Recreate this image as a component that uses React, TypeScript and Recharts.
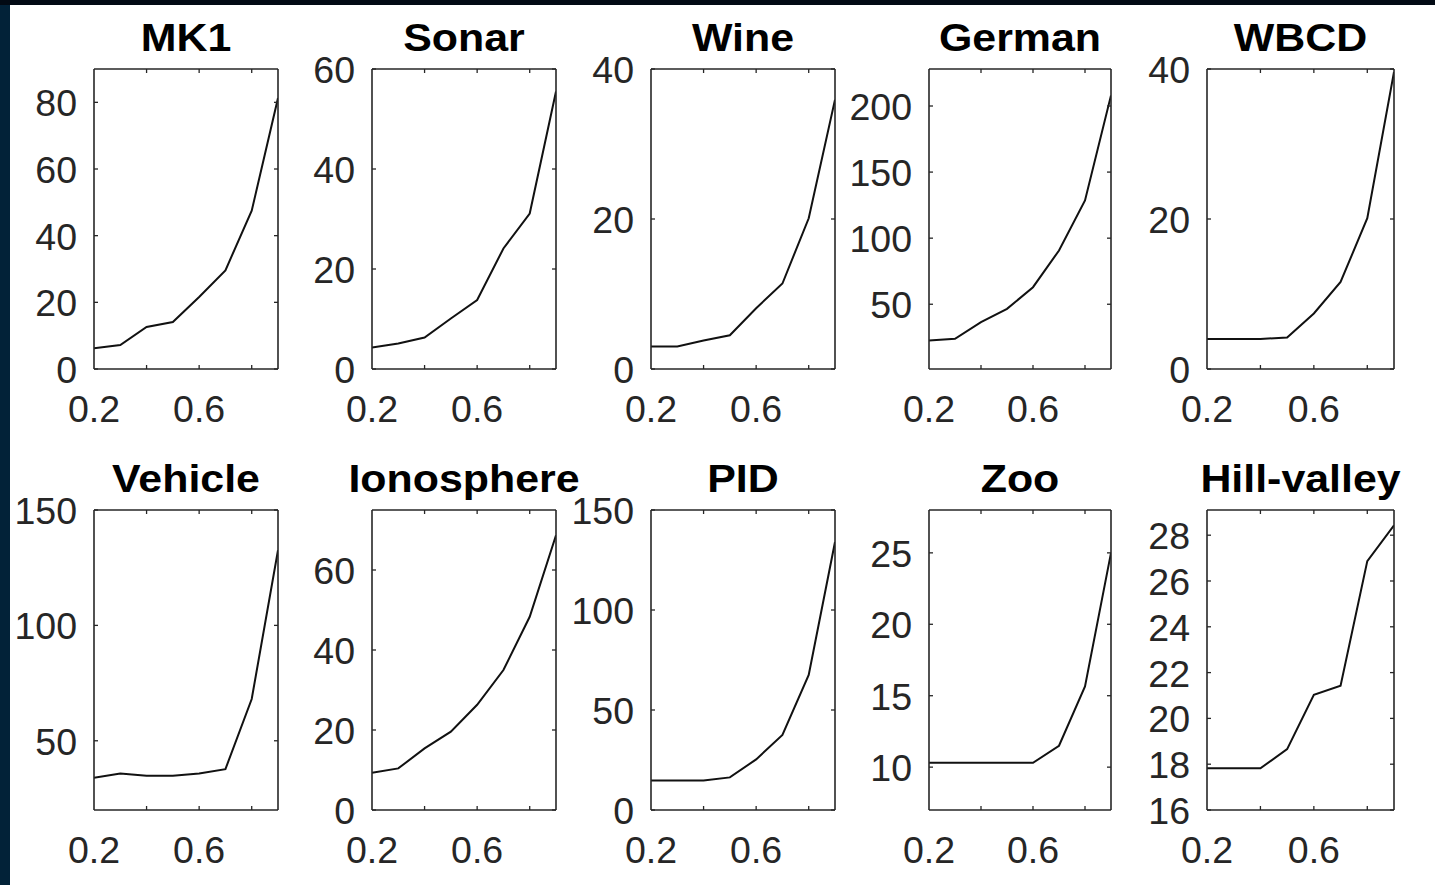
import React from 'react';
import { LineChart, Line, XAxis, YAxis } from 'recharts';

const xValues = [0.2, 0.3, 0.4, 0.5, 0.6, 0.7, 0.8, 0.9];
const xTicks = [0.2, 0.4, 0.6, 0.8];
const xLabelTicks = [0.2, 0.6];

const mk1 = [6.2, 7.2, 12.6, 14.1, 21.6, 29.6, 47.5, 81.3];
const sonar = [4.3, 5.1, 6.3, 10.1, 13.8, 24.1, 31.1, 55.5];
const wine = [3.0, 3.0, 3.8, 4.5, 8.1, 11.4, 20.1, 35.9];
const german = [22.5, 23.8, 36.4, 46.5, 62.9, 90.7, 128.6, 208];
const wbcd = [4.0, 4.0, 4.0, 4.2, 7.4, 11.6, 20.1, 39.6];
const vehicle = [34.0, 35.8, 34.8, 34.8, 35.8, 37.7, 68.1, 132.6];
const ionosphere = [9.3, 10.4, 15.4, 19.6, 26.3, 35.0, 48.3, 68.7];
const pid = [14.7, 14.7, 14.7, 16.3, 25.3, 37.5, 67.5, 134];
const zoo = [10.3, 10.3, 10.3, 10.3, 10.3, 11.5, 15.65, 25.0];
const hillValley = [17.82, 17.82, 17.82, 18.66, 21.03, 21.43, 26.87, 28.43];

const titles = ['MK1', 'Sonar', 'Wine', 'German', 'WBCD', 'Vehicle', 'Ionosphere', 'PID', 'Zoo', 'Hill-valley'];
const series = [mk1, sonar, wine, german, wbcd, vehicle, ionosphere, pid, zoo, hillValley];
const yDomains: [number, number][] = [
  [0, 90], [0, 60], [0, 40], [1, 228], [0, 40],
  [20, 150], [0, 75], [0, 150], [7, 28], [16, 29.1],
];
const yTicks = [
  [0, 20, 40, 60, 80], [0, 20, 40, 60], [0, 20, 40], [50, 100, 150, 200], [0, 20, 40],
  [50, 100, 150], [0, 20, 40, 60], [0, 50, 100, 150], [10, 15, 20, 25], [16, 18, 20, 22, 24, 26, 28],
];

// layout
const colLeft = [94, 372, 651, 929, 1207];
const colRight = [278, 556, 835, 1111, 1394];
const rowTop = [69, 510];
const rowBottom = [369, 810];
const M = { top: 60, left: 90, right: 20, bottom: 70 };
const chartMargin = { top: M.top - 1, left: M.left - 1, right: M.right - 1, bottom: M.bottom - 1 };

const AXIS_COLOR = '#262626';
const FONT = '"Liberation Sans", Arial, Helvetica, sans-serif';
const TICK_LEN = 4;
const TICK_FONT = 37.5;

const XBottomTick = (props: any) => {
  const { x, y, payload } = props;
  const v = payload.value;
  const show = xLabelTicks.some((t) => Math.abs(t - v) < 1e-6);
  const inner = Math.abs(v - 0.2) > 1e-6;
  return (
    <g>
      {inner && <line x1={x} x2={x} y1={y} y2={y - TICK_LEN} stroke={AXIS_COLOR} strokeWidth={1.3} />}
      {show && (
        <text x={x} y={y + 53} textAnchor="middle" fontSize={TICK_FONT} fontFamily={FONT} fill={AXIS_COLOR}>
          {v.toFixed(1)}
        </text>
      )}
    </g>
  );
};

const XTopTick = (props: any) => {
  const { x, y, payload } = props;
  const v = payload.value;
  if (Math.abs(v - 0.2) < 1e-6) return <g />;
  return <line x1={x} x2={x} y1={y} y2={y + TICK_LEN} stroke={AXIS_COLOR} strokeWidth={1.3} />;
};

const YLeftTick = (props: any) => {
  const { x, y, payload } = props;
  return (
    <g>
      <line x1={x} x2={x + TICK_LEN} y1={y} y2={y} stroke={AXIS_COLOR} strokeWidth={1.3} />
      <text x={x - 17} y={y + 14} textAnchor="end" fontSize={TICK_FONT} fontFamily={FONT} fill={AXIS_COLOR}>
        {payload.value}
      </text>
    </g>
  );
};

const YRightTick = (props: any) => {
  const { x, y } = props;
  return <line x1={x} x2={x - TICK_LEN} y1={y} y2={y} stroke={AXIS_COLOR} strokeWidth={1.3} />;
};

const axisLine = { stroke: AXIS_COLOR, strokeWidth: 1.6 };

function Panel({ idx }: { idx: number }) {
  const col = idx % 5;
  const row = Math.floor(idx / 5);
  const boxW = colRight[col] - colLeft[col];
  const boxH = rowBottom[row] - rowTop[row];
  const width = boxW + M.left + M.right;
  const height = boxH + M.top + M.bottom;
  const data = xValues.map((x, i) => ({ x, y: series[idx][i] }));
  return (
    <div style={{ position: 'absolute', left: colLeft[col] - M.left, top: rowTop[row] - M.top, width, height }}>
      <LineChart width={width} height={height} data={data} margin={chartMargin} style={{ overflow: 'visible' }}>
        <XAxis
          xAxisId="b"
          dataKey="x"
          type="number"
          domain={[0.2, 0.9]}
          ticks={xTicks}
          allowDataOverflow
          height={1}
          tickSize={0}
          tickMargin={0}
          interval={0}
          axisLine={axisLine}
          tickLine={false}
          tick={<XBottomTick />}
        />
        <XAxis
          xAxisId="t"
          orientation="top"
          dataKey="x"
          type="number"
          domain={[0.2, 0.9]}
          ticks={xTicks}
          allowDataOverflow
          height={1}
          tickSize={0}
          tickMargin={0}
          interval={0}
          axisLine={axisLine}
          tickLine={false}
          tick={<XTopTick />}
        />
        <YAxis
          yAxisId="l"
          type="number"
          domain={yDomains[idx]}
          ticks={yTicks[idx]}
          allowDataOverflow
          width={1}
          tickSize={0}
          tickMargin={0}
          interval={0}
          axisLine={axisLine}
          tickLine={false}
          tick={<YLeftTick />}
        />
        <YAxis
          yAxisId="r"
          orientation="right"
          type="number"
          domain={yDomains[idx]}
          ticks={yTicks[idx]}
          allowDataOverflow
          width={1}
          tickSize={0}
          tickMargin={0}
          interval={0}
          axisLine={axisLine}
          tickLine={false}
          tick={<YRightTick />}
        />
        <Line
          xAxisId="b"
          yAxisId="l"
          type="linear"
          dataKey="y"
          stroke="#111"
          strokeWidth={2}
          dot={false}
          activeDot={false}
          isAnimationActive={false}
        />
      </LineChart>
    </div>
  );
}

export default function App() {
  return (
    <div
      style={{
        position: 'absolute',
        left: 0,
        top: 0,
        width: 1435,
        height: 885,
        background: '#ffffff',
        overflow: 'hidden',
      }}
    >
      <div style={{ position: 'absolute', left: 0, top: 0, width: 10, height: 885, background: '#022238' }} />
      <div style={{ position: 'absolute', left: 0, top: 0, width: 1435, height: 5, background: '#020a14' }} />
      {titles.map((_, i) => (
        <Panel key={i} idx={i} />
      ))}
      <svg width={1435} height={885} style={{ position: 'absolute', left: 0, top: 0, pointerEvents: 'none' }}>
        {titles.map((t, i) => {
          const col = i % 5;
          const row = Math.floor(i / 5);
          const cx = (colLeft[col] + colRight[col]) / 2;
          const baseline = rowTop[row] - 18;
          return (
            <text
              key={t}
              x={0}
              y={0}
              transform={`translate(${cx},${baseline}) scale(1.1,1)`}
              textAnchor="middle"
              fontSize={39}
              fontWeight="bold"
              fontFamily={FONT}
              fill="#000"
            >
              {t}
            </text>
          );
        })}
      </svg>
    </div>
  );
}
